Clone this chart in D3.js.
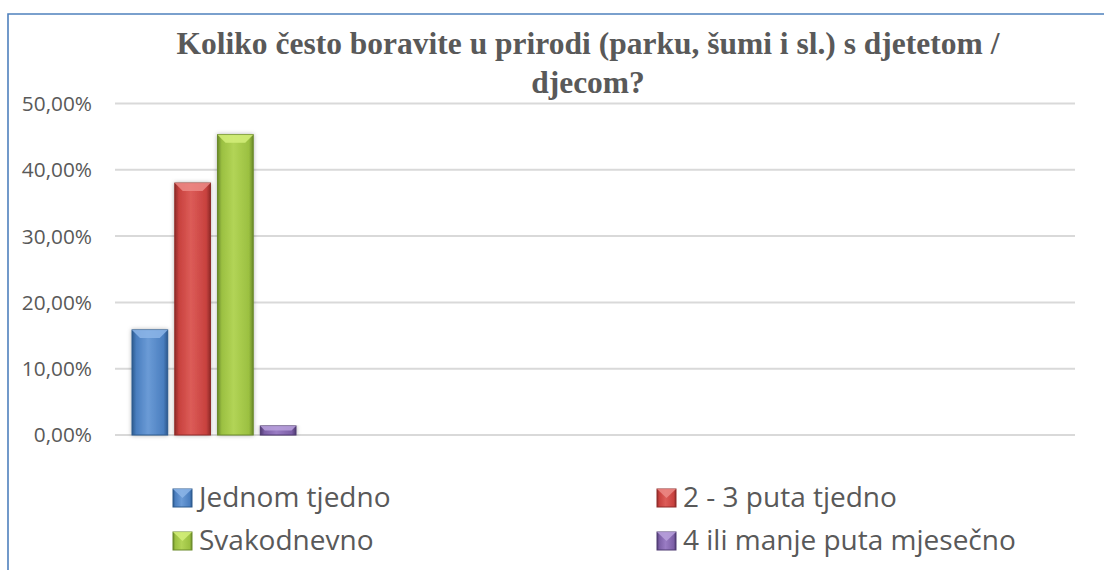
<!DOCTYPE html>
<html>
<head>
<meta charset="utf-8">
<script src="https://cdn.jsdelivr.net/npm/d3@7"></script>
<style>
  body { margin: 0; background: #fff; }
  svg { display: block; }
  .ylab { font-family: 'Open Sans', sans-serif; font-size: 20.8px; fill: #595959; }
</style>
</head>
<body>
<svg id="chart" width="1104" height="570"></svg>
<script>
// data
const titleLines = ["Koliko često boravite u prirodi (parku, šumi i sl.) s djetetom /", "djecom?"];
const seriesNames = ["Jednom tjedno", "2 - 3 puta tjedno", "Svakodnevno", "4 ili manje puta mjesečno"];
const seriesValues = [0.1585, 0.38, 0.453, 0.0136];
const yTicks = [0, 0.1, 0.2, 0.3, 0.4, 0.5];
const colors = [
    { base: "#4a7ebf", light: "#6b9bd6", dark: "#2d5a8e", top: "#8cb5e8" },
    { base: "#c8413e", light: "#dc5c58", dark: "#8f2b29", top: "#ec8a86" },
    { base: "#9bc041", light: "#b2d456", dark: "#6b8a2a", top: "#d4ef7a" },
    { base: "#7c5fa6", light: "#9a7cc4", dark: "#4f3a72", top: "#b9a1dc" }
];

const svg = d3.select("#chart");
const textColor = "#595959";

const plot = { left: 115, right: 1075, top: 103.5, bottom: 435 };

const y = d3.scaleLinear().domain([0, 0.5]).range([plot.bottom, plot.top]);
const x = d3.scaleBand().domain(seriesNames).range([132, 296]).paddingInner(0.165);

const fmt = v => d3.format(".2f")(v * 100).replace(".", ",") + "%";

// chart frame (only top and left edges visible)
svg.append("path")
    .attr("d", "M8,570 L8,14 L1104,14")
    .attr("fill", "none")
    .attr("stroke", "#4f81bd")
    .attr("stroke-width", 1.6);

// title
const title = svg.append("g").attr("transform", "translate(588,0)");
const tl = title.selectAll("text").data(titleLines).join("text")
    .attr("x", 0)
    .attr("y", (d, i) => 54 + i * 39)
    .attr("text-anchor", "middle")
    .style("font-family", "'Liberation Serif', 'Times New Roman', serif")
    .style("font-weight", "bold")
    .style("font-size", "31px")
    .attr("fill", textColor)
    .text(d => d);
const natural = tl.node().getComputedTextLength();
const sx = 823 / natural;
tl.attr("transform", `scale(${sx},1)`);

// gridlines
svg.append("g").selectAll("line").data(yTicks).join("line")
    .attr("x1", plot.left).attr("x2", plot.right)
    .attr("y1", d => y(d)).attr("y2", d => y(d))
    .attr("stroke", "#d9d9d9").attr("stroke-width", 2);

// y labels
svg.append("g").selectAll("text").data(yTicks).join("text")
    .attr("class", "ylab")
    .attr("x", 92)
    .attr("y", d => y(d))
    .attr("dy", "0.36em")
    .attr("text-anchor", "end")
    .text(fmt);

// gradients
const defs = svg.append("defs");
colors.forEach((c, i) => {
    const g = defs.append("linearGradient").attr("id", "bar" + i)
        .attr("x1", 0).attr("x2", 1).attr("y1", 0).attr("y2", 0);
    g.append("stop").attr("offset", "0%").attr("stop-color", c.dark);
    g.append("stop").attr("offset", "12%").attr("stop-color", c.base);
    g.append("stop").attr("offset", "45%").attr("stop-color", c.light);
    g.append("stop").attr("offset", "88%").attr("stop-color", c.base);
    g.append("stop").attr("offset", "100%").attr("stop-color", c.dark);
});
const sh = defs.append("filter").attr("id", "shadow")
    .attr("x", "-30%").attr("y", "-10%").attr("width", "160%").attr("height", "120%");
sh.append("feDropShadow").attr("dx", 0).attr("dy", 0).attr("stdDeviation", 2)
    .attr("flood-color", "#000").attr("flood-opacity", 0.3);

// bars
const bars = svg.append("g").selectAll("g").data(seriesValues).join("g");
bars.append("rect")
    .attr("x", (d, i) => x(seriesNames[i]))
    .attr("y", d => y(d))
    .attr("width", x.bandwidth())
    .attr("height", d => y(0) - y(d))
    .attr("fill", (d, i) => `url(#bar${i})`)
    .attr("stroke", (d, i) => colors[i].dark)
    .attr("stroke-width", 1)
    .attr("filter", "url(#shadow)");
// bevel cap on top of each bar
bars.append("path")
    .attr("d", (d, i) => {
        const x0 = x(seriesNames[i]), w = x.bandwidth(), t = y(d);
        const h = Math.min(8, (y(0) - t) / 2);
        return `M${x0},${t} L${x0 + w},${t} L${x0 + w - h},${t + h} L${x0 + h},${t + h} Z`;
    })
    .attr("fill", (d, i) => colors[i].top)
    .attr("opacity", 0.85);

// legend
const legendPos = [[173, 507], [657, 507], [173, 550], [657, 550]];
const leg = svg.append("g").selectAll("g").data(seriesNames).join("g")
    .attr("transform", (d, i) => `translate(${legendPos[i][0]},${legendPos[i][1]})`);
leg.append("rect")
    .attr("x", 0).attr("y", -18).attr("width", 19).attr("height", 18)
    .attr("fill", (d, i) => `url(#bar${i})`)
    .attr("stroke", (d, i) => colors[i].dark).attr("stroke-width", 1);
leg.append("path")
    .attr("d", "M0,-18 L19,-18 L9.5,-9 Z")
    .attr("fill", (d, i) => colors[i].top).attr("opacity", 0.85);
leg.append("text")
    .attr("x", 26).attr("y", 0)
    .attr("fill", textColor)
    .style("font-family", "'Open Sans', sans-serif")
    .style("font-size", "28px")
    .text(d => d);
</script>
</body>
</html>
